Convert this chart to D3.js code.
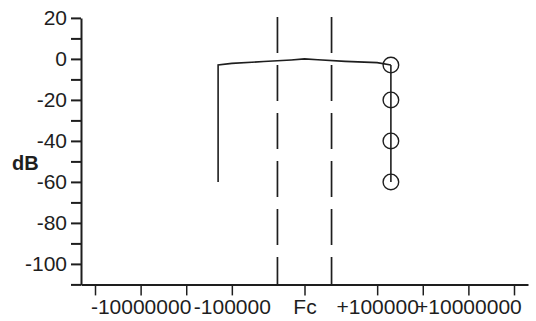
<!DOCTYPE html>
<html>
<head>
<meta charset="utf-8">
<script src="https://cdn.jsdelivr.net/npm/d3@7"></script>
<style>
  body { margin: 0; background: #fff; }
  svg { display: block; }
</style>
</head>
<body>
<div id="graph"></div>
<script>
/* offsets from Fc in Hz, response in dB */
var curveOffsets = [-200000, -200000, -100000, -20000, -5000, 0, 5000, 20000, 100000, 200000];
var curveDb = [-60, -3, -2.2, -1.3, -0.5, 0, -0.4, -1.2, -1.8, -3];
var markerOffsets = [200000, 200000, 200000, 200000];
var markerDb = [-3, -20, -40, -60];
var bandEdges = [-10000, 10000];

var xTickOffsets = [-1e8, -1e7, -1e6, -1e5, 0, 1e5, 1e6, 1e7, 1e8];
var xTickLabels = ["", "-10000000", "", "-100000", "Fc", "+100000", "", "+10000000", ""];
var yTickValues = [-110, -100, -90, -80, -70, -60, -50, -40, -30, -20, -10, 0, 10, 20];
var yTickLabels = ["", "-100", "", "-80", "", "-60", "", "-40", "", "-20", "", "0", "", "20"];

window.onload = (function() {

    var WIDTH = 536, HEIGHT = 321;
    var INK = "#1e1e1e";
    var FONT = "'Liberation Sans', Arial, sans-serif";
    var LOG_GAP = 3.407;   // decades folded away around Fc

    function foldLog(f) {
        /* symmetric log position of an offset, Fc at 0 */
        return Math.sign(f) * Math.max(0, Math.log10(Math.abs(f)) - LOG_GAP);
    }

    function __init__() {
        var svg = d3.select("#graph").append("svg")
            .attr("width", WIDTH)
            .attr("height", HEIGHT);

        var xLin = d3.scaleLinear().domain([-4.9, 4.9]).range([81, 528]);
        var x = function(f) { return xLin(foldLog(f)); };
        var y = d3.scaleLinear().domain([-110, 20]).range([284.4, 17.9]);

        // band edge markers
        svg.selectAll("line.edge")
            .data(bandEdges)
            .enter().append("line")
            .attr("class", "edge")
            .attr("x1", function(d) { return x(d); })
            .attr("x2", function(d) { return x(d); })
            .attr("y1", y(20) - 1)
            .attr("y2", y(-110))
            .attr("stroke", INK)
            .attr("stroke-width", 1.7)
            .attr("stroke-dasharray", "36,12");

        // x axis
        var xAxis = d3.axisBottom(xLin)
            .tickValues(xTickOffsets.map(foldLog))
            .tickSize(11)
            .tickSizeOuter(0)
            .tickFormat(function(d, i) { return xTickLabels[i]; });
        var gx = svg.append("g")
            .attr("transform", "translate(0," + y(-110) + ")")
            .call(xAxis);
        gx.select(".domain").attr("stroke", INK).attr("stroke-width", 2);
        gx.selectAll(".tick line").attr("stroke", INK).attr("stroke-width", 1.5);
        gx.selectAll(".tick text")
            .attr("y", 15)
            .attr("fill", INK)
            .attr("font-family", FONT)
            .attr("font-size", 21);

        // y axis
        var yAxis = d3.axisLeft(y)
            .tickValues(yTickValues)
            .tickSize(10)
            .tickSizeOuter(0)
            .tickFormat(function(d, i) { return yTickLabels[i]; });
        var gy = svg.append("g")
            .attr("transform", "translate(81,0)")
            .call(yAxis);
        gy.select(".domain").attr("stroke", INK).attr("stroke-width", 2);
        gy.selectAll(".tick line").attr("stroke", INK).attr("stroke-width", 2);
        gy.selectAll(".tick text")
            .attr("x", -14)
            .attr("dy", "0.33em")
            .attr("fill", INK)
            .attr("font-family", FONT)
            .attr("font-size", 21);

        svg.append("text")
            .attr("x", 12)
            .attr("y", 170)
            .attr("fill", INK)
            .attr("font-family", FONT)
            .attr("font-weight", "bold")
            .attr("font-size", 20)
            .text("dB");

        // response curve
        var curvePts = curveOffsets.map(function(f, i) { return [f, curveDb[i]]; });
        var line = d3.line()
            .x(function(d) { return x(d[0]); })
            .y(function(d) { return y(d[1]); });
        svg.append("path")
            .datum(curvePts)
            .attr("d", line)
            .attr("fill", "none")
            .attr("stroke", INK)
            .attr("stroke-width", 1.6);

        // rejection points
        var markPts = markerOffsets.map(function(f, i) { return [f, markerDb[i]]; });
        svg.append("path")
            .datum(markPts)
            .attr("d", line)
            .attr("fill", "none")
            .attr("stroke", INK)
            .attr("stroke-width", 1.6);
        svg.selectAll("circle.mark")
            .data(markPts)
            .enter().append("circle")
            .attr("class", "mark")
            .attr("cx", function(d) { return x(d[0]); })
            .attr("cy", function(d) { return y(d[1]); })
            .attr("r", 7.8)
            .attr("fill", "none")
            .attr("stroke", INK)
            .attr("stroke-width", 1.4);
    }

    __init__();
});
</script>
</body>
</html>
